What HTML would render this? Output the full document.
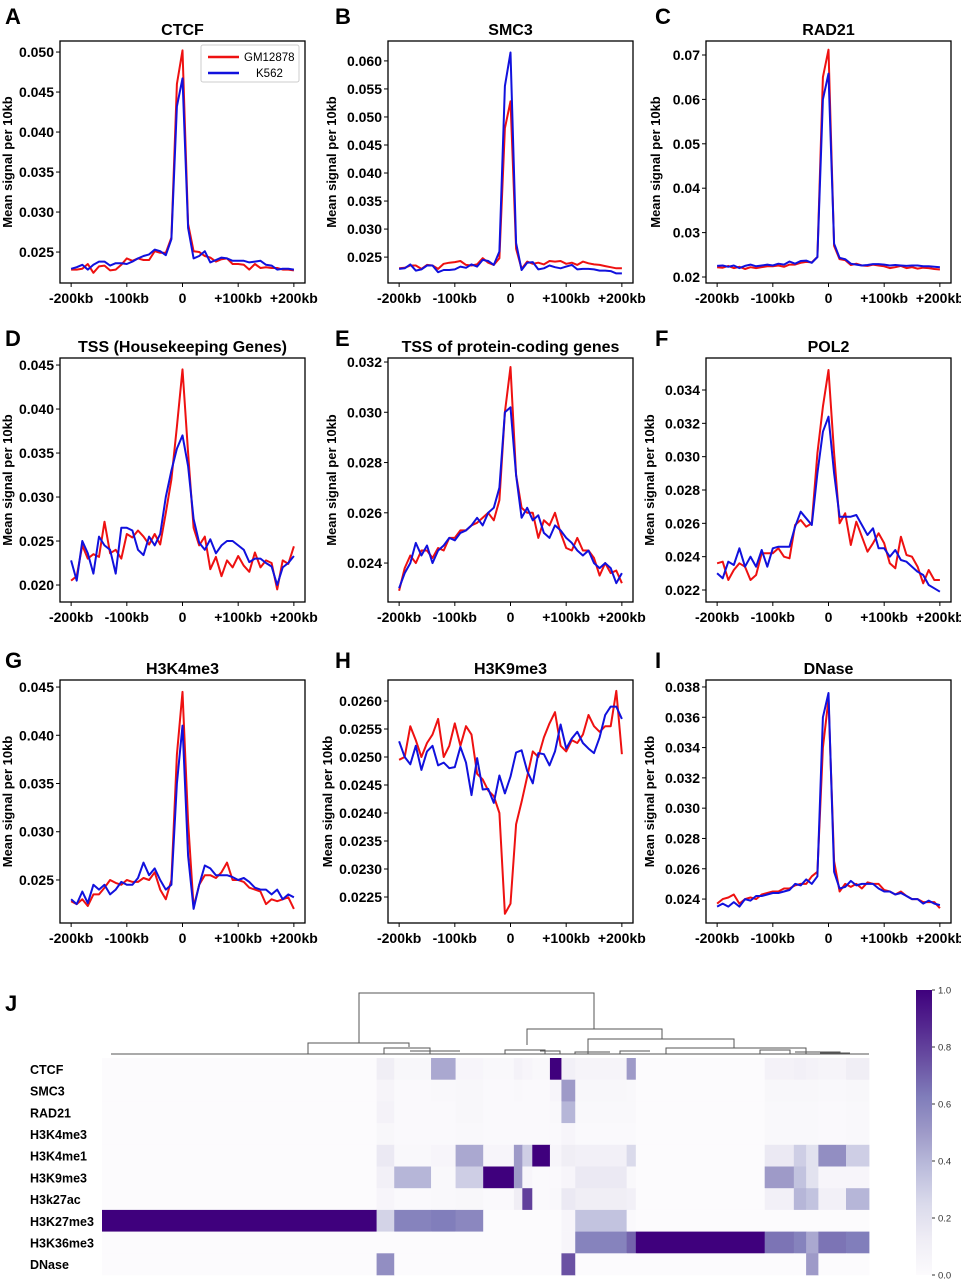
<!DOCTYPE html>
<html><head><meta charset="utf-8"><style>
html,body{margin:0;padding:0;background:#fff;}
svg{display:block;font-family:"Liberation Sans",Arial,sans-serif;}
</style></head><body>
<svg id="fig" width="961" height="1280" viewBox="0 0 961 1280" xmlns="http://www.w3.org/2000/svg"></svg>
<script>
const xPositions = [-200,-190,-180,-170,-160,-150,-140,-130,-120,-110,-100,-90,-80,-70,-60,-50,-40,-30,-20,-10,0,10,20,30,40,50,60,70,80,90,100,110,120,130,140,150,160,170,180,190,200];
const xTickValues = [-200,-100,0,100,200];
const xTickLabels = ['-200kb','-100kb','0','+100kb','+200kb'];
const seriesNames = ['GM12878','K562'];
const panelTitles = ['CTCF','SMC3','RAD21','TSS (Housekeeping Genes)','TSS of protein-coding genes','POL2','H3K4me3','H3K9me3','DNase'];
const panelLetters = ['A','B','C','D','E','F','G','H','I'];
const redA=[.0228,.0228,.0229,.0235,.0224,.0232,.0233,.0227,.0228,.0234,.0242,.0239,.0242,.0240,.0240,.0251,.0249,.0249,.0268,.0460,.0502,.0285,.0251,.0250,.0245,.0243,.0238,.0241,.0242,.0235,.0235,.0234,.0228,.0235,.0230,.0231,.0230,.0230,.0228,.0228,.0227];
const blueA=[.0229,.0231,.0234,.0228,.0234,.0238,.0238,.0233,.0236,.0236,.0235,.0238,.0242,.0245,.0247,.0253,.0251,.0246,.0266,.0432,.0467,.0280,.0242,.0245,.0251,.0237,.0240,.0243,.0242,.0239,.0239,.0239,.0237,.0238,.0239,.0234,.0233,.0228,.0229,.0229,.0228];
const redB=[.0230,.0231,.0235,.0235,.0229,.0236,.0235,.0229,.0238,.0240,.0241,.0243,.0236,.0235,.0237,.0248,.0240,.0236,.0248,.0480,.0528,.0265,.0229,.0242,.0238,.0240,.0237,.0243,.0242,.0243,.0238,.0240,.0236,.0242,.0239,.0237,.0236,.0234,.0232,.0230,.0230];
const blueB=[.0229,.0230,.0237,.0226,.0228,.0235,.0235,.0223,.0227,.0227,.0228,.0233,.0231,.0237,.0233,.0245,.0243,.0236,.0260,.0555,.0615,.0275,.0227,.0240,.0241,.0228,.0230,.0235,.0232,.0230,.0233,.0236,.0228,.0229,.0229,.0228,.0226,.0226,.0225,.0221,.0221];
const redC=[.0222,.0221,.0225,.0220,.0223,.0218,.0222,.0220,.0222,.0224,.0224,.0226,.0223,.0228,.0228,.0232,.0234,.0233,.0245,.0650,.0712,.0270,.0240,.0238,.0227,.0230,.0226,.0225,.0228,.0226,.0224,.0220,.0222,.0225,.0220,.0222,.0219,.0221,.0220,.0218,.0217];
const blueC=[.0225,.0226,.0223,.0226,.0220,.0225,.0228,.0224,.0226,.0228,.0226,.0230,.0228,.0235,.0230,.0236,.0237,.0232,.0245,.0600,.0658,.0275,.0243,.0240,.0230,.0228,.0226,.0227,.0229,.0229,.0228,.0226,.0227,.0226,.0225,.0226,.0226,.0224,.0224,.0223,.0222];
const redD=[.0205,.0210,.0245,.0230,.0235,.0232,.0272,.0236,.0240,.0230,.0258,.0254,.0262,.0255,.0246,.0258,.0246,.0282,.0320,.0380,.0445,.0350,.0265,.0245,.0255,.0218,.0232,.0210,.0228,.0220,.0233,.0222,.0215,.0237,.0220,.0228,.0225,.0195,.0228,.0224,.0244];
const blueD=[.0228,.0205,.0250,.0236,.0213,.0255,.0245,.0240,.0213,.0265,.0265,.0262,.0240,.0234,.0255,.0245,.0258,.0300,.0330,.0355,.0370,.0335,.0275,.0248,.0240,.0252,.0236,.0245,.0250,.0250,.0245,.0240,.0226,.0230,.0230,.0225,.0221,.0200,.0220,.0225,.0233];
const redE=[.0229,.0238,.0243,.0240,.0245,.0245,.0242,.0246,.0245,.0250,.0250,.0253,.0253,.0255,.0256,.0258,.0260,.0257,.0265,.0300,.0318,.0275,.0262,.0260,.0260,.0250,.0257,.0255,.0260,.0252,.0246,.0245,.0250,.0245,.0245,.0242,.0235,.0240,.0236,.0237,.0232];
const blueE=[.0230,.0236,.0240,.0248,.0243,.0247,.0240,.0245,.0247,.0250,.0249,.0252,.0253,.0255,.0258,.0255,.0260,.0262,.0270,.0300,.0302,.0275,.0258,.0262,.0257,.0259,.0252,.0250,.0255,.0253,.0250,.0248,.0245,.0243,.0245,.0240,.0238,.0240,.0238,.0232,.0236];
const redF=[.0236,.0237,.0226,.0232,.0236,.0234,.0226,.0229,.0242,.0242,.0242,.0245,.0240,.0239,.0259,.0262,.0258,.0260,.0302,.0330,.0352,.0302,.0260,.0266,.0247,.0261,.0252,.0243,.0248,.0254,.0248,.0236,.0233,.0252,.0241,.0240,.0234,.0224,.0232,.0226,.0226];
const blueF=[.0230,.0227,.0237,.0235,.0245,.0234,.0240,.0234,.0244,.0234,.0245,.0246,.0246,.0246,.0258,.0267,.0263,.0259,.0290,.0315,.0324,.0290,.0264,.0264,.0264,.0265,.0259,.0253,.0257,.0245,.0245,.0240,.0244,.0238,.0237,.0234,.0231,.0229,.0223,.0221,.0219];
const redG=[.0228,.0225,.0230,.0223,.0235,.0235,.0242,.0250,.0247,.0245,.0250,.0248,.0248,.0252,.0250,.0258,.0240,.0230,.0250,.0380,.0445,.0310,.0222,.0245,.0255,.0255,.0252,.0258,.0268,.0250,.0250,.0248,.0242,.0240,.0238,.0225,.0230,.0228,.0230,.0232,.0220];
const blueG=[.0230,.0225,.0238,.0226,.0245,.0240,.0245,.0235,.0240,.0248,.0245,.0245,.0252,.0268,.0255,.0262,.0250,.0240,.0245,.0350,.0410,.0275,.0220,.0245,.0265,.0262,.0255,.0255,.0255,.0253,.0250,.0252,.0248,.0242,.0240,.0240,.0235,.0240,.0230,.0235,.0232];
const redH=[.02495,.0250,.02555,.0253,.0250,.02525,.0254,.02568,.0250,.0252,.0256,.0252,.02555,.0254,.0247,.0246,.0244,.0243,.0240,.0222,.02238,.0238,.0242,.02465,.0251,.0250,.02535,.0256,.0258,.0252,.0251,.0253,.02525,.0254,.02575,.02555,.02545,.02555,.02555,.02618,.02505];
const blueH=[.02528,.0250,.02487,.0252,.02477,.0251,.0252,.02485,.0249,.0248,.02482,.02518,.0249,.02432,.02498,.02442,.02443,.02418,.02467,.02435,.02465,.02508,.02512,.02475,.02453,.02507,.02505,.02485,.0251,.02558,.02515,.02533,.02545,.02525,.02515,.02507,.02535,.02575,.0259,.0259,.02568];
const redI=[.0237,.0240,.0241,.0243,.0237,.0240,.0241,.0240,.0243,.0244,.0245,.0245,.0247,.0247,.0249,.0250,.0250,.0255,.0258,.0340,.0372,.0265,.0245,.0250,.0248,.0250,.0247,.0251,.0250,.0250,.0246,.0245,.0243,.0245,.0242,.0240,.0240,.0238,.0238,.0238,.0234];
const blueI=[.0235,.0237,.0235,.0238,.0235,.0240,.0239,.0242,.0242,.0243,.0244,.0244,.0245,.0246,.0250,.0249,.0253,.0250,.0255,.0360,.0376,.0258,.0247,.0248,.0252,.0249,.0250,.0250,.0250,.0247,.0245,.0245,.0243,.0244,.0242,.0240,.0240,.0237,.0239,.0237,.0236];
const redSeries=[redA,redB,redC,redD,redE,redF,redG,redH,redI];
const blueSeries=[blueA,blueB,blueC,blueD,blueE,blueF,blueG,blueH,blueI];
const yDomains=[[0.02113,0.05138],[0.02038,0.06355],[0.01865,0.07315],[0.01807,0.0458],[0.02245,0.03216],[0.02128,0.03592],[0.02054,0.04573],[0.022036,0.026375],[0.02242,0.03846]];
const yTickValues=[[0.025,0.030,0.035,0.040,0.045,0.050],[0.025,0.030,0.035,0.040,0.045,0.050,0.055,0.060],[0.02,0.03,0.04,0.05,0.06,0.07],[0.020,0.025,0.030,0.035,0.040,0.045],[0.024,0.026,0.028,0.030,0.032],[0.022,0.024,0.026,0.028,0.030,0.032,0.034],[0.025,0.030,0.035,0.040,0.045],[0.0225,0.0230,0.0235,0.0240,0.0245,0.0250,0.0255,0.0260],[0.024,0.026,0.028,0.030,0.032,0.034,0.036,0.038]];
const yTickDecimals=[3,3,2,3,3,3,3,4,3];

const heatRows=['CTCF','SMC3','RAD21','H3K4me3','H3K4me1','H3K9me3','H3k27ac','H3K27me3','H3K36me3','DNase'];
const segStarts=[0,0.358,0.381,0.429,0.461,0.497,0.537,0.548,0.561,0.584,0.599,0.617,0.684,0.696,0.864,0.902,0.918,0.934,0.970];
const segEnds  =[0.358,0.381,0.429,0.461,0.497,0.537,0.548,0.561,0.584,0.599,0.617,0.684,0.696,0.864,0.902,0.918,0.934,0.970,1.0];
const valCTCF    =[0,0.12,0.04,0.45,0.05,0.03,0.08,0.05,0.03,1.0,0.1,0.06,0.5,0,0.08,0.1,0.08,0.06,0.12];
const valSMC3    =[0,0.06,0.02,0.03,0.04,0.02,0.03,0.02,0.02,0.05,0.5,0.04,0.03,0,0.04,0.04,0.04,0.03,0.04];
const valRAD21   =[0,0.08,0.02,0.02,0.04,0.02,0.02,0.02,0.02,0.03,0.4,0.03,0.03,0,0.03,0.03,0.03,0.02,0.03];
const valH3K4me3 =[0,0.04,0.02,0.02,0.03,0.02,0.02,0.02,0.02,0.02,0.05,0.02,0.02,0,0.03,0.03,0.03,0.02,0.03];
const valH3K4me1 =[0,0.15,0.03,0.05,0.45,0.05,0.5,0.3,1.0,0.05,0.12,0.1,0.25,0,0.15,0.3,0.2,0.55,0.3];
const valH3K9me3 =[0,0.1,0.4,0.03,0.3,1.0,0.5,0.05,0.02,0.02,0.05,0.15,0.03,0,0.5,0.35,0.2,0.05,0.05];
const valH3k27ac =[0,0.05,0.02,0.03,0.04,0.02,0.12,0.8,0.02,0.03,0.15,0.12,0.1,0,0.1,0.4,0.35,0.1,0.4];
const valH3K27me3=[1.0,0.28,0.6,0.62,0.58,0,0,0,0,0,0.05,0.35,0.02,0,0,0,0,0,0];
const valH3K36me3=[0,0,0,0,0,0,0,0,0,0,0.05,0.6,0.7,1.0,0.65,0.6,0.45,0.65,0.62];
const valDNase   =[0,0.55,0,0,0,0,0,0,0,0,0.75,0,0,0,0,0,0.5,0,0];
const heatValues=[valCTCF,valSMC3,valRAD21,valH3K4me3,valH3K4me1,valH3K9me3,valH3k27ac,valH3K27me3,valH3K36me3,valDNase];
const cbTicks=[0.0,0.2,0.4,0.6,0.8,1.0];

const NS='http://www.w3.org/2000/svg';
const svg=document.getElementById('fig');
function mk(tag,attrs,parent,text){const e=document.createElementNS(NS,tag);for(const k in attrs)e.setAttribute(k,attrs[k]);if(text!==undefined)e.textContent=text;(parent||svg).appendChild(e);return e;}

const colLefts=[60,388,706], rowTops=[41,358,680], rowHeights=[242,244,243], W=245;
const letterX=[5,335,655], letterY=[24,346,668];
for(let p=0;p<9;p++){
  const c=p%3,r=Math.floor(p/3);
  const L=colLefts[c],T=rowTops[r],H=rowHeights[r];
  const g=mk('g',{});
  
  
  const xs=v=>L+W*(v+220)/440;
  const [y0,y1]=yDomains[p];
  const ys=v=>T+H*(y1-v)/(y1-y0);
  const lt=mk('text',{x:letterX[c],y:letterY[r],'font-size':22,'font-weight':'bold'},g,panelLetters[p]);
  
  
  const tt=mk('text',{x:L+W/2,y:T-6,'font-size':16,'font-weight':'bold','text-anchor':'middle'},g,panelTitles[p]);
  
  
  xTickValues.forEach((v,i)=>{
    mk('line',{x1:xs(v),x2:xs(v),y1:T+H,y2:T+H+4,stroke:'#000','stroke-width':1},g);
    const t=mk('text',{x:xs(v),y:T+H+20,'font-size':14,'font-weight':'bold','text-anchor':'middle'},g,xTickLabels[i]);
    
    
  });
  yTickValues[p].forEach(v=>{
    mk('line',{x1:L-4,x2:L,y1:ys(v),y2:ys(v),stroke:'#000','stroke-width':1},g);
    const t=mk('text',{x:L-6,y:ys(v)+5,'font-size':14,'font-weight':'bold','text-anchor':'end'},g,v.toFixed(yTickDecimals[p]));
    
    
  });
  const yl=L-(p===7?58:(p===2?48:54));
  const ya=mk('text',{x:0,y:0,'font-size':13,'font-weight':'bold','text-anchor':'middle',transform:`translate(${c===0?12:yl+2},${T+H/2}) rotate(-90)`},g,'Mean signal per 10kb');
  
  
  [[redSeries[p],'#ee1111','gm12878-line'],[blueSeries[p],'#1111dd','k562-line']].forEach(([arr,col,nm])=>{
    const pts=arr.map((v,i)=>xs(xPositions[i]).toFixed(1)+','+ys(v).toFixed(1)).join(' ');
    const pl=mk('polyline',{points:pts,fill:'none',stroke:col,'stroke-width':2,'stroke-linejoin':'round'},g);
    
    
  });
  const fr=mk('rect',{x:L,y:T,width:W,height:H,fill:'none',stroke:'#000','stroke-width':1.3},g);
  
  
  if(p===0){
    const lg=mk('g',{},g);
    
    
    mk('rect',{x:201,y:45,width:98,height:37,rx:2,fill:'#fff',stroke:'#ccc'},lg);
    [['#ee1111',57],['#1111dd',73]].forEach(([col,y],i)=>{
      mk('line',{x1:208,x2:239,y1:y,y2:y,stroke:col,'stroke-width':2.5},lg);
      const t=mk('text',{x:i?256:244,y:y+4,'font-size':11.5},lg,seriesNames[i]);
      
      
    });
  }
}

// Heatmap
const HL=102,HR=869,HT=1058,HB=1275;
const purp=['#fcfbfd','#efedf5','#dadaeb','#bcbddc','#9e9ac8','#807dba','#6a51a3','#54278f','#3f007d'];
function hex(h){return [1,3,5].map(i=>parseInt(h.substr(i,2),16));}
function cmap(v){v=Math.max(0,Math.min(1,v));const f=v*8,i=Math.min(7,Math.floor(f)),t=f-i;const a=hex(purp[i]),b=hex(purp[i+1]);return 'rgb('+a.map((x,k)=>Math.round(x+(b[k]-x)*t)).join(',')+')';}
const jl=mk('text',{x:5,y:1011,'font-size':22,'font-weight':'bold'},svg,'J');


const hg=mk('g',{});


const rh=(HB-HT)/heatRows.length;
heatRows.forEach((nm,r)=>{
  const t=mk('text',{x:30,y:HT+rh*(r+0.5)+5,'font-size':12.5,'font-weight':'bold'},hg,nm);
  
  
  segStarts.forEach((s,i)=>{
    const x0=HL+(HR-HL)*s,x1=HL+(HR-HL)*segEnds[i];
    const cell=mk('rect',{x:x0.toFixed(2),y:(HT+rh*r).toFixed(2),width:(x1-x0+0.4).toFixed(2),height:(rh+0.3).toFixed(2),fill:cmap(heatValues[r][i])},hg);
    
    
  });
});
// Dendrogram
const dg=mk('g',{stroke:'#555','stroke-width':1,fill:'none'});


const dendroPaths=['M111,1054H869','M359,1043V993H594V1029','M308,1054V1043H409V1047','M527,1045V1029H662V1039','M588,1054V1039H734V1048','M666,1054V1048H806V1054','M384,1054V1048H430V1054','M410,1051H460','M505,1054V1050H545V1054','M540,1051H560V1054','M575,1054V1052H610','M620,1054V1051H650','M760,1054V1050H790V1054','M795,1052H840V1054','M820,1053H850'];
dendroPaths.forEach(d=>{const p=mk('path',{d},dg);});
// Colorbar
const CBL=916,CBW=16,CBT=990,CBB=1275;
const defs=mk('defs',{});
const lgd=mk('linearGradient',{id:'cbg',x1:0,y1:1,x2:0,y2:0},defs);
purp.forEach((c,i)=>mk('stop',{offset:(i/8),'stop-color':c},lgd));
const cb=mk('rect',{x:CBL,y:CBT,width:CBW,height:CBB-CBT,fill:'url(#cbg)'});


cbTicks.forEach(v=>{
  const y=CBB-(CBB-CBT)*v;
  mk('line',{x1:CBL+CBW,x2:CBL+CBW+3,y1:y,y2:y,stroke:'#333'});
  const t=mk('text',{x:CBL+CBW+6,y:y+3.5,'font-size':9.5,fill:'#333'},svg,v.toFixed(1));
  
  
});
</script>
</body></html>
